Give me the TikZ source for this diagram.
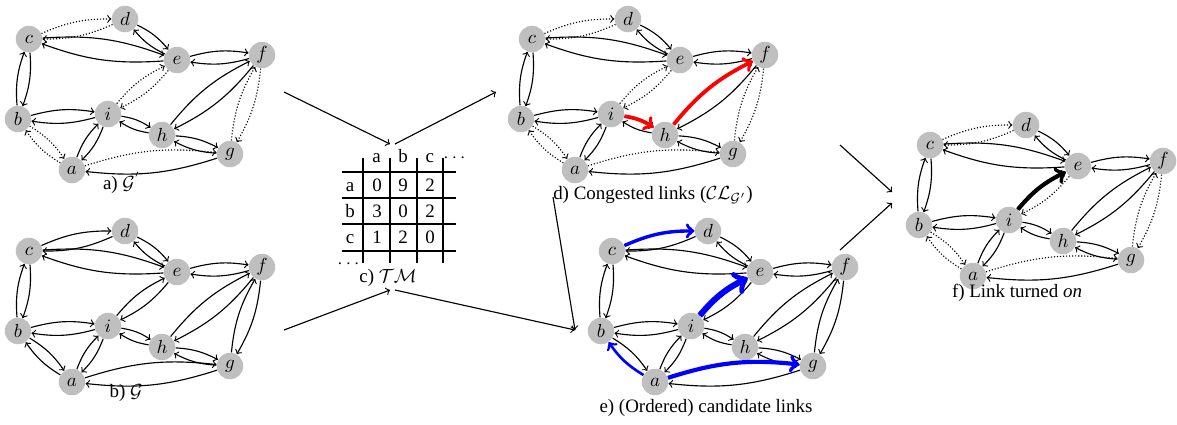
\documentclass[tikz,border=0pt]{standalone}
\usepackage{fontspec}
\setmainfont{Liberation Serif}
\usepackage{amsmath}
\usetikzlibrary{positioning}
\tikzset{
  vertex/.style={circle, fill=black!25, minimum size=14pt, inner sep=0pt},
  link/.style={->, semithick, bend left=12},
  offlink/.style={link, densely dotted},
  flow/.style={->, semithick},
  congested/.style={link, red, line width=2pt},
  candidate/.style={link, blue},
  turnedon/.style={link, black, line width=2.2pt},
  pics/network/.style 2 args={
    code = {
        \foreach \n/\x/\y in {c/29/39, d/125/19, e/177/60, f/262/55, b/18/119, i/108/114, h/162/135, g/230/154, a/72/170} {
            \node [vertex] (#1-\n) at (\x, \y) {$\n$};
        }
        \foreach \u/\v in {d/e, c/e, e/f, c/b, b/i, i/h, h/f, h/g, a/i} {
            \draw [link] (#1-\u) to (#1-\v);
            \draw [link] (#1-\v) to (#1-\u);
        }
        \foreach \u/\v in {c/d, i/e, f/g, b/a} {
            \draw [#2] (#1-\u) to (#1-\v);
            \draw [#2] (#1-\v) to (#1-\u);
        }
        \draw [#2] (#1-a) to (#1-g);
        \draw [link] (#1-g) to (#1-a);
    }
  }
}
\begin{document}
\begin{tikzpicture}[x=0.528pt, y=-0.528pt]
            \useasboundingbox (0,0) rectangle (1177,424);

            \pic at (0,0) {network={A}{offlink}};
            \pic at (0,212) {network={B}{link}};
            \pic at (503,0) {network={D}{offlink}};
            \pic at (583,212) {network={E}{link}};
            \pic at (901,106) {network={F}{offlink}};

            \node (capA) at (122,183) {a) $\mathcal{G}^{'}$};
            \node (capB) at (126,393) {b) $\mathcal{G}$};
            \node (capD) at (653,195) {d) Congested links ($\mathcal{CL}_{\mathcal{G}'}$)};
            \node (capE) at (706,408) {e) (Ordered) candidate links};
            \node (capF) at (1017,293) {f) Link turned \emph{on}};

            \draw [congested] (D-i) to (D-h);
            \draw [congested] (D-h) to (D-f);

            \draw [candidate, line width=3.2pt] (E-i) to (E-e);
            \draw [candidate, line width=2.2pt] (E-a) to (E-g);
            \draw [candidate, line width=1.8pt] (E-c) to (E-d);
            \draw [candidate, line width=1.4pt] (E-a) to (E-b);

            \draw [turnedon] (F-i) to (F-e);

            % traffic matrix
            \foreach \x in {363, 390, 417, 443} \draw [semithick] (\x,158) -- (\x,263);
            \foreach \y in {172, 198, 224, 251} \draw [semithick] (342,\y) -- (456,\y);
            \foreach \t [count=\k] in {a, b, c} {
                \node [anchor=base] (col-\t) at (350+26.6*\k, 162) {\t};
            }
            \node [anchor=base] (col-more) at (456,162) {$\cdots$};
            \foreach \t/\p/\q/\r [count=\k] in {a/0/9/2, b/3/0/2, c/1/2/0} {
                \node [anchor=base] (row-\t) at (350, 165+26*\k) {\t};
                \node [anchor=base] (cell-\t-a) at (377, 165+26*\k) {\p};
                \node [anchor=base] (cell-\t-b) at (403, 165+26*\k) {\q};
                \node [anchor=base] (cell-\t-c) at (430, 165+26*\k) {\r};
            }
            \node [anchor=base] (row-more) at (350,268) {$\cdots$};
            \node (capTM) at (388,278) {c) $\mathcal{TM}$};

            \coordinate (Aout) at (284,92);
            \coordinate (Bout) at (284,330);
            \coordinate (TMin) at (390,144);
            \coordinate (TMout) at (395,144);
            \coordinate (TMin2) at (390,290);
            \coordinate (TMout2) at (395,290);
            \coordinate (Din) at (496,92);
            \coordinate (Dout) at (553,197);
            \coordinate (Ein) at (575,330);
            \coordinate (Dout2) at (840,145);
            \coordinate (Eout) at (840,250);
            \coordinate (Fin) at (892,192);
            \coordinate (Fin2) at (892,203);

            \draw [flow] (Aout) -- (TMin);
            \draw [flow] (TMout) -- (Din);
            \draw [flow] (Bout) -- (TMin2);
            \draw [flow] (TMout2) -- (Ein);
            \draw [flow] (Dout) -- (Ein);
            \draw [flow] (Dout2) -- (Fin);
            \draw [flow] (Eout) -- (Fin2);
\end{tikzpicture}
\end{document}
